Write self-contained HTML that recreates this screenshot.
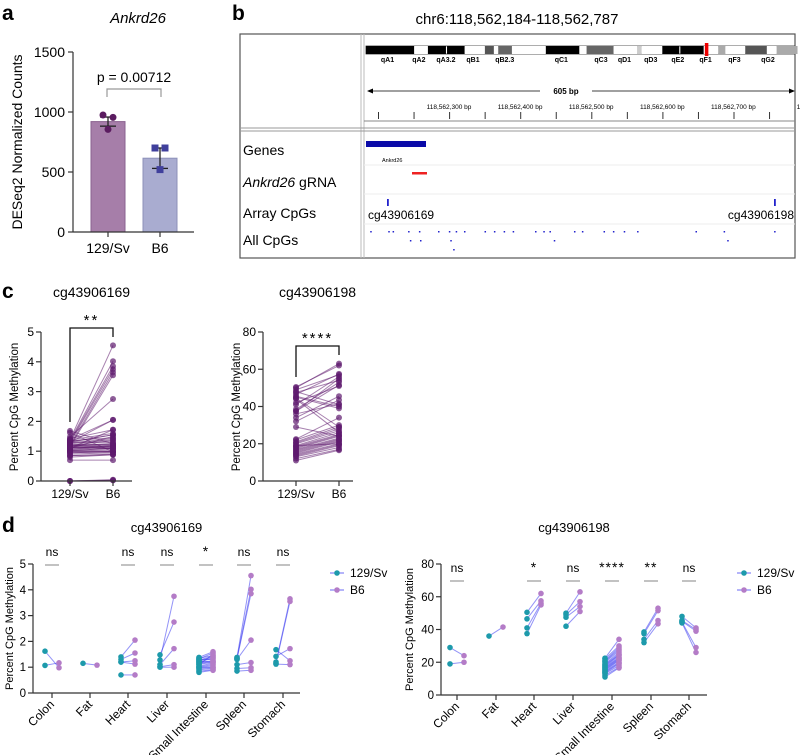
<!DOCTYPE html>
<html><head><meta charset="utf-8"><style>
html,body{margin:0;padding:0;background:#fff}
svg{display:block;font-family:"Liberation Sans",sans-serif}
</style></head><body>
<svg id="fig" width="800" height="755" viewBox="0 0 800 755" xmlns="http://www.w3.org/2000/svg">
<text x="2" y="20" font-size="21" font-weight="bold">a</text>
<text x="232" y="20" font-size="21" font-weight="bold">b</text>
<text x="2" y="298" font-size="21" font-weight="bold">c</text>
<text x="2" y="532" font-size="21" font-weight="bold">d</text>
<g id="pa"></g>
<g id="pb"></g>
<g id="pc"></g>
<g id="pd"></g>
</svg>
<script>
const NS="http://www.w3.org/2000/svg";
function mk(p,t,a,txt){const e=document.createElementNS(NS,t);for(const k in a)e.setAttribute(k,a[k]);if(txt!==undefined)e.textContent=txt;p.appendChild(e);return e;}

// ---------- Panel a data ----------
const aGroups=["129/Sv","B6"];
const aMeans=[920,615];
const aSem=[38,85];
const aPts129=[975,955,855];
const aPtsB6=[700,700,520];
const aTicks=[0,500,1000,1500];

// ---------- Panel b data ----------
const bpTickLabels=["118,562,300 bp","118,562,400 bp","118,562,500 bp","118,562,600 bp","118,562,700 bp","118,5"];
const bandNames=["qA1","qA2","qA3.2","qB1","qB2.3","qC1","qC3","qD1","qD3","qE2","qF1","qF3","qG2"];

// ---------- Panel d/c data ----------
const tissues=["Colon","Fat","Heart","Liver","Small Intestine","Spleen","Stomach"];
const sig169=["ns","","ns","ns","*","ns","ns"];
const sig198=["ns","","*","ns","****","**","ns"];
const cg169_129=[[1.62,1.07],[1.15],[1.4,1.3,1.2,1.2,0.7],[1.28,1.48,1.1,1.02,1.0],
 [1.38,1.35,1.32,1.3,1.28,1.25,1.22,1.2,1.18,1.15,1.12,1.1,1.05,1.02,1.0,0.98,0.95,0.9,0.85,0.8],
 [1.38,1.35,1.32,1.3,1.1,0.95,0.85],[1.2,1.15,1.68,1.42,1.12]];
const cg169_B6=[[0.98,1.17],[1.08],[2.05,1.55,1.25,1.12,0.7],[3.75,2.75,1.72,1.1,1.0],
 [1.6,1.45,1.55,1.3,1.42,1.38,1.2,1.35,1.25,1.22,1.18,1.5,1.15,1.1,1.05,1.0,0.98,0.95,0.9,0.88],
 [4.55,4.02,3.85,2.05,1.18,0.98,0.88],[3.65,3.55,1.25,1.72,1.1]];
const cg198_129=[[29,19],[36],[50.5,46.5,41,37.5],[50,49,47.5,42],
 [22.5,22,21,20.5,20,19,18.5,18,17.5,17,16.5,16,15.5,15,14.5,14,13.5,13,12,11],
 [38.5,37.5,34,32],[48,45.5,45,44.5,44]];
const cg198_B6=[[24,20],[41.5],[62,57.5,56,55],[63,57,54,51],
 [34,30,29,28,27,26,25,24.5,24,23,22.5,22,21.5,21,20,19.5,19,18,17,16.5],
 [53,51.5,45.5,43.5],[41,40,39,29,26]];
const cExtra129=[0,0,0];
const cExtraB6=[0.03,0.02,0.04];
const ticks169=[0,1,2,3,4,5];
const ticks198=[0,20,40,60,80];

// ================= Panel a =================
(function(){
 const g=document.getElementById('pa');
 const y=v=>232-v*180/1500;
 const xc=[108,160];
 mk(g,'text',{x:138,y:23,'font-size':15,'font-style':'italic','text-anchor':'middle'},'Ankrd26');
 mk(g,'text',{x:0,y:0,'font-size':14,'text-anchor':'middle',transform:'translate(22,142) rotate(-90)'},'DESeq2 Normalized Counts');
 aMeans.forEach((m,i)=>{
  const r=mk(g,'rect',{x:xc[i]-17,y:y(m),width:34,height:232-y(m),fill:i?'#a9acd0':'#a67ea9',stroke:i?'#8d90b8':'#8a6290','stroke-width':1});
  
  
  mk(g,'line',{x1:xc[i],x2:xc[i],y1:y(m+aSem[i]),y2:y(m-aSem[i]),stroke:'#222','stroke-width':1.3});
  mk(g,'line',{x1:xc[i]-8,x2:xc[i]+8,y1:y(m+aSem[i]),y2:y(m+aSem[i]),stroke:'#222','stroke-width':1.3});
  mk(g,'line',{x1:xc[i]-8,x2:xc[i]+8,y1:y(m-aSem[i]),y2:y(m-aSem[i]),stroke:'#222','stroke-width':1.3});
  mk(g,'text',{x:xc[i],y:253,'font-size':14,'text-anchor':'middle'},aGroups[i]);
 });
 const off=[-5,5,0];
 aPts129.forEach((v,i)=>{const c=mk(g,'circle',{cx:xc[0]+off[i],cy:y(v),r:3.5,fill:'#5b1c60'});
  });
 aPtsB6.forEach((v,i)=>{const c=mk(g,'rect',{x:xc[1]+off[i]-3.5,y:y(v)-3.5,width:7,height:7,fill:'#40409c'});
  });
 mk(g,'line',{x1:73,x2:73,y1:y(1500),y2:232,stroke:'#333','stroke-width':1.2});
 mk(g,'line',{x1:73,x2:194,y1:232,y2:232,stroke:'#333','stroke-width':1.2});
 aTicks.forEach(t=>{mk(g,'line',{x1:68,x2:73,y1:y(t),y2:y(t),stroke:'#333','stroke-width':1.2});
  mk(g,'text',{x:65,y:y(t)+5,'font-size':14,'text-anchor':'end'},t);});
 xc.forEach(x=>mk(g,'line',{x1:x,x2:x,y1:232,y2:237,stroke:'#333','stroke-width':1.2}));
 mk(g,'path',{d:'M107,97 V89 H161 V97',fill:'none',stroke:'#999','stroke-width':1.2});
 mk(g,'text',{x:134,y:82,'font-size':14,'text-anchor':'middle'},'p = 0.00712');
})();

// ================= Panel b =================
(function(){
 const g=document.getElementById('pb');
 mk(g,'text',{x:517,y:24,'font-size':15,'text-anchor':'middle'},'chr6:118,562,184-118,562,787');
 mk(g,'rect',{x:240,y:34,width:555,height:224,fill:'#fff',stroke:'#555','stroke-width':1.2});
 mk(g,'line',{x1:361,x2:361,y1:34,y2:258,stroke:'#bbb'});mk(g,'line',{x1:364,x2:364,y1:34,y2:258,stroke:'#bbb'});
 mk(g,'line',{x1:240,x2:795,y1:128,y2:128,stroke:'#999'});mk(g,'line',{x1:240,x2:795,y1:131,y2:131,stroke:'#999'});
 const zx=v=>235+v*0.3606;
 const bands=[[363,497,'#000'],[497,535,'#fff'],[535,585,'#000'],[588,637,'#000'],[637,693,'#fff'],[693,718,'#555'],[718,730,'#fff'],[730,768,'#666'],[768,862,'#fff'],[862,955,'#000'],[955,975,'#fff'],[975,1050,'#666'],[1050,1115,'#fff'],[1115,1128,'#ccc'],[1128,1185,'#fff'],[1185,1232,'#000'],[1235,1300,'#000'],[1300,1340,'#fff'],[1340,1360,'#aaa'],[1360,1415,'#fff'],[1415,1475,'#555'],[1475,1502,'#fff'],[1502,1560,'#aaa']];
 mk(g,'rect',{x:366,y:46,width:429,height:8,fill:'#fff',stroke:'#333','stroke-width':0.8});
 bands.forEach(b=>mk(g,'rect',{x:zx(b[0]),y:46,width:zx(b[1])-zx(b[0]),height:8,fill:b[2]}));
 mk(g,'rect',{x:zx(1303),y:43,width:3.5,height:13,fill:'#e00'});
 const bandX=[423,510,585,660,748,905,1015,1080,1153,1228,1305,1385,1478];
 bandNames.forEach((n,i)=>mk(g,'text',{x:zx(bandX[i]),y:62,'font-size':7,'font-weight':'bold','text-anchor':'middle'},n));
 mk(g,'line',{x1:368,x2:540,y1:91,y2:91,stroke:'#000','stroke-width':0.8});
 mk(g,'line',{x1:592,x2:793,y1:91,y2:91,stroke:'#000','stroke-width':0.8});
 mk(g,'path',{d:'M367,91 l6,-2.5 v5z M795,91 l-6,-2.5 v5z',fill:'#000'});
 mk(g,'text',{x:566,y:94,'font-size':8,'font-weight':'bold','text-anchor':'middle'},'605 bp');
 for(let i=0;i<12;i++){const x=378.5+i*35.55;mk(g,'line',{x1:x,x2:x,y1:112,y2:119,stroke:'#333'});}
 bpTickLabels.forEach((l,i)=>mk(g,'text',{x:449+i*71.1,y:109,'font-size':6.5,'text-anchor':'middle'},l));
 mk(g,'line',{x1:364,x2:795,y1:121,y2:121,stroke:'#888'});
 mk(g,'line',{x1:364,x2:795,y1:165,y2:165,stroke:'#eee'});
 mk(g,'line',{x1:364,x2:795,y1:194,y2:194,stroke:'#eee'});
 mk(g,'line',{x1:364,x2:795,y1:224,y2:224,stroke:'#eee'});
 mk(g,'text',{x:243,y:155,'font-size':14},'Genes');
 const t2=mk(g,'text',{x:243,y:187,'font-size':14});
 mk(t2,'tspan',{'font-style':'italic'},'Ankrd26');mk(t2,'tspan',{},' gRNA');
 mk(g,'text',{x:243,y:218,'font-size':14},'Array CpGs');
 mk(g,'text',{x:243,y:245,'font-size':14},'All CpGs');
 mk(g,'rect',{x:366,y:141,width:60,height:6,fill:'#0a0aa8'});
 mk(g,'text',{x:382,y:162,'font-size':5.5},'Ankrd26');
 mk(g,'rect',{x:412,y:172,width:15,height:2.5,fill:'#e22'});
 mk(g,'rect',{x:387,y:199,width:1.8,height:7,fill:'#22c'});
 mk(g,'rect',{x:774,y:199,width:1.8,height:7,fill:'#22c'});
 mk(g,'text',{x:368,y:219,'font-size':12},'cg43906169');
 mk(g,'text',{x:794,y:219,'font-size':12,'text-anchor':'end'},'cg43906198');
 const r1=[375,425,437,480,510,563,593,612,635,692,718,745,770,832,855,872,940,962,1022,1048,1078,1115,1277,1355,1495];
 const r2=[485,513,597,884,1365];
 r1.forEach(x=>mk(g,'rect',{x:zx(x),y:231,width:1.5,height:1.5,fill:'#22c'}));
 r2.forEach(x=>mk(g,'rect',{x:zx(x),y:240,width:1.5,height:1.5,fill:'#22c'}));
 mk(g,'rect',{x:zx(605),y:249,width:1.5,height:1.5,fill:'#22c'});
})();

// ================= Panel c =================
function flat(a){return [].concat(...a);}
function cPlot(g,ax,y0,ymax,ticks,x1,x2,xend,v129,vB6,title,stars,brTop,legL,legR,ylx){
 const y=v=>481-v*(481-332)/ymax;
 mk(g,'text',{x:(x1+x2)/2,y:297,'font-size':14,'text-anchor':'middle'},title);
 mk(g,'text',{x:0,y:0,'font-size':11.5,'text-anchor':'middle',transform:`translate(${ylx},407) rotate(-90)`},'Percent CpG Methylation');
 v129.forEach((a,i)=>{
  const l=mk(g,'line',{x1:x1,y1:y(a),x2:x2,y2:y(vB6[i]),stroke:'#5e1a6e','stroke-opacity':0.55,'stroke-width':1});
  
 });
 v129.forEach((a,i)=>{
  const c1=mk(g,'circle',{cx:x1,cy:y(a),r:3,fill:'#5e1a6e','fill-opacity':0.7});
  
  const c2=mk(g,'circle',{cx:x2,cy:y(vB6[i]),r:3,fill:'#5e1a6e','fill-opacity':0.7});
  
 });
 mk(g,'line',{x1:ax,x2:ax,y1:332,y2:481,stroke:'#333','stroke-width':1.2});
 mk(g,'line',{x1:ax,x2:xend,y1:481,y2:481,stroke:'#333','stroke-width':1.2});
 ticks.forEach(t=>{mk(g,'line',{x1:ax-5,x2:ax,y1:y(t),y2:y(t),stroke:'#333','stroke-width':1.2});
  mk(g,'text',{x:ax-7,y:y(t)+4,'font-size':12,'text-anchor':'end'},t);});
 [x1,x2].forEach((x,i)=>{mk(g,'line',{x1:x,x2:x,y1:481,y2:486,stroke:'#333','stroke-width':1.2});
  mk(g,'text',{x:x,y:498,'font-size':12,'text-anchor':'middle'},i?'B6':'129/Sv');});
 mk(g,'path',{d:`M${x1},${legL} V${brTop} H${x2} V${legR}`,fill:'none',stroke:'#111','stroke-width':1.3});
 mk(g,'text',{x:(x1+x2)/2,y:brTop-3,'font-size':15,'text-anchor':'middle','letter-spacing':'2'},stars);
}
(function(){
 const g=document.getElementById('pc');
 const a129=flat(cg169_129).concat(cExtra129), aB6=flat(cg169_B6).concat(cExtraB6);
 cPlot(g,41,481,5,ticks169,70,113,132,a129,aB6,'cg43906169','**',328,422,337,18);
 cPlot(g,263,481,80,ticks198,296,339,353,flat(cg198_129),flat(cg198_B6),'cg43906198','****',346,377,355,240);
})();

// ================= Panel d =================
function dPlot(g,ax,yb,ytop,ymax,ticks,xs,xend,d129,dB6,sig,title,sigY,legX,ylx){
 const y=v=>yb-v*(yb-ytop)/ymax;
 mk(g,'text',{x:(ax+xend)/2,y:532,'font-size':13,'text-anchor':'middle'},title);
 mk(g,'text',{x:0,y:0,'font-size':11,'text-anchor':'middle',transform:`translate(${ylx},${(yb+ytop)/2}) rotate(-90)`},'Percent CpG Methylation');
 tissues.forEach((t,i)=>{
  const xa=xs[i]-7,xb=xs[i]+7;
  d129[i].forEach((a,j)=>{const l=mk(g,'line',{x1:xa,y1:y(a),x2:xb,y2:y(dB6[i][j]),stroke:'#3a3af0','stroke-opacity':0.55,'stroke-width':1});
   });
  d129[i].forEach(a=>{const c=mk(g,'circle',{cx:xa,cy:y(a),r:2.8,fill:'#1d9aab'});
   });
  dB6[i].forEach(b=>{const c=mk(g,'circle',{cx:xb,cy:y(b),r:2.8,fill:'#b47cc7'});
   });
  mk(g,'line',{x1:xs[i],x2:xs[i],y1:yb,y2:yb+5,stroke:'#333','stroke-width':1.2});
  mk(g,'text',{x:0,y:0,'font-size':12,'text-anchor':'end',transform:`translate(${xs[i]+3},${yb+12}) rotate(-45)`},t);
  if(sig[i]){
   mk(g,'text',{x:xs[i],y:sigY,'font-size':sig[i]==='ns'?12:14,'text-anchor':'middle','letter-spacing':sig[i]==='ns'?0:1},sig[i]);
   mk(g,'line',{x1:xs[i]-7,x2:xs[i]+7,y1:sigY+9,y2:sigY+9,stroke:'#bbb','stroke-width':1.8});
  }
 });
 mk(g,'line',{x1:ax,x2:ax,y1:ytop,y2:yb,stroke:'#333','stroke-width':1.2});
 mk(g,'line',{x1:ax,x2:xend,y1:yb,y2:yb,stroke:'#333','stroke-width':1.2});
 ticks.forEach(t=>{mk(g,'line',{x1:ax-5,x2:ax,y1:y(t),y2:y(t),stroke:'#333','stroke-width':1.2});
  mk(g,'text',{x:ax-7,y:y(t)+4,'font-size':11.5,'text-anchor':'end'},t);});
 [['129/Sv','#1d9aab',573],['B6','#b47cc7',590]].forEach(L=>{
  const lg=mk(g,'g',{});
  mk(lg,'line',{x1:legX,x2:legX+14,y1:L[2],y2:L[2],stroke:'#6a6af5','stroke-width':1});
  mk(lg,'circle',{cx:legX+7,cy:L[2],r:2.8,fill:L[1]});
  mk(lg,'text',{x:legX+20,y:L[2]+4,'font-size':12},L[0]);
 });
}
(function(){
 const g=document.getElementById('pd');
 dPlot(g,33,693,564,5,ticks169,[52,90,128,167,206,244,283],300,cg169_129,cg169_B6,sig169,'cg43906169',556,330,13);
 dPlot(g,441,695,564,80,ticks198,[457,496,534,573,612,651,689],707,cg198_129,cg198_B6,sig198,'cg43906198',572,737,413);
})();
</script>
</body></html>
